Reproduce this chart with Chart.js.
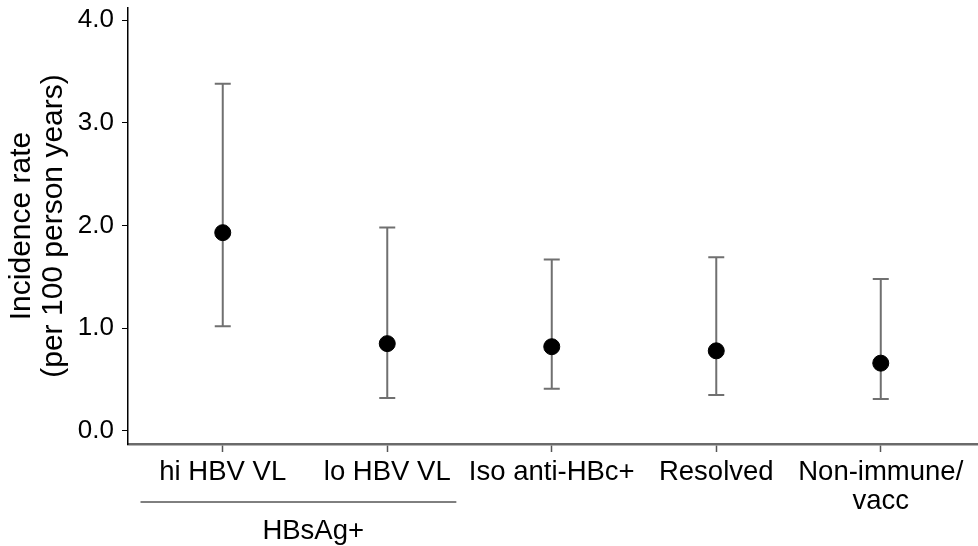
<!DOCTYPE html>
<html>
<head>
<meta charset="utf-8">
<script src="https://cdn.jsdelivr.net/npm/chart.js@4"></script>
<style>
  html, body { margin: 0; padding: 0; background: #fff; overflow: hidden; }
  canvas { display: block; }
</style>
</head>
<body>
<canvas id="chart" width="978" height="546"></canvas>
<script>
const categories = [['hi HBV VL'], ['lo HBV VL'], ['Iso anti-HBc+'], ['Resolved'], ['Non-immune/', 'vacc']];
const rates = [1.93, 0.85, 0.82, 0.78, 0.66];
const lower = [1.02, 0.32, 0.41, 0.35, 0.31];
const upper = [3.38, 1.98, 1.67, 1.69, 1.48];
const yTicks = [0, 1, 2, 3, 4];
const groupLabel = 'HBsAg+';

const FONT = 'Liberation Sans, Arial, Helvetica, sans-serif';

// error bars + group bracket, drawn through the chart scales
const extras = {
    id: 'extras',
    beforeDatasetsDraw(chart) {
        const { ctx, scales: { x, y } } = chart;
        ctx.save();
        ctx.strokeStyle = '#707070';
        ctx.lineWidth = 2;
        rates.forEach((r, i) => {
            const px = x.getPixelForValue(i);
            const top = y.getPixelForValue(upper[i]);
            const bot = y.getPixelForValue(lower[i]);
            ctx.beginPath();
            ctx.moveTo(px, top); ctx.lineTo(px, bot);
            ctx.moveTo(px - 8, top); ctx.lineTo(px + 8, top);
            ctx.moveTo(px - 8, bot); ctx.lineTo(px + 8, bot);
            ctx.stroke();
        });
        ctx.restore();
    },
    afterDraw(chart) {
        const { ctx, scales: { x } } = chart;
        ctx.save();
        const lineY = x.bottom - 44;
        ctx.strokeStyle = '#000';
        ctx.lineWidth = 1;
        ctx.beginPath();
        ctx.moveTo(x.getPixelForValue(-0.5), lineY);
        ctx.lineTo(x.getPixelForValue(1.42), lineY);
        ctx.stroke();
        ctx.fillStyle = '#000';
        ctx.font = '27.5px ' + FONT;
        ctx.textAlign = 'center';
        ctx.textBaseline = 'middle';
        ctx.fillText(groupLabel, x.getPixelForValue(0.55), lineY + 29);
        ctx.restore();
    }
};

new Chart(document.getElementById('chart'), {
    type: 'scatter',
    data: {
        datasets: [{
            data: rates.map((r, i) => ({ x: i, y: r })),
            backgroundColor: '#000',
            borderColor: '#000',
            pointRadius: 8,
            pointHoverRadius: 8
        }]
    },
    options: {
        responsive: false,
        animation: false,
        devicePixelRatio: 1,
        layout: { autoPadding: false, padding: { top: 8, right: 1, left: 0, bottom: 0 } },
        plugins: { legend: { display: false }, tooltip: { enabled: false } },
        scales: {
            x: {
                type: 'linear',
                min: -0.576,
                max: 4.585,
                afterBuildTicks: s => { s.ticks = categories.map((c, i) => ({ value: i })); },
                afterFit: s => { s.height = 102; s.paddingLeft = 0; s.paddingRight = 0; },
                grid: { drawOnChartArea: false, drawTicks: true, tickLength: 8, color: '#555', tickWidth: 1.5 },
                border: { color: '#6a6a6a', width: 2.5 },
                ticks: {
                    callback: (v) => categories[v],
                    color: '#000',
                    padding: 6,
                    maxRotation: 0,
                    autoSkip: false,
                    font: { family: FONT, size: 27.5, lineHeight: 1.06 }
                }
            },
            y: {
                min: -0.127,
                max: 4.117,
                afterBuildTicks: s => { s.ticks = yTicks.map(v => ({ value: v })); },
                afterFit: s => { s.width = 128; s.paddingTop = 0; s.paddingBottom = 0; },
                grid: { drawOnChartArea: false, drawTicks: true, tickLength: 6, color: '#000', tickWidth: 1 },
                border: { color: '#000', width: 1.5 },
                ticks: {
                    callback: v => v.toFixed(1),
                    color: '#000',
                    padding: 8,
                    font: { family: FONT, size: 26 }
                },
                title: {
                    display: true,
                    text: ['Incidence rate', '(per 100 person years)'],
                    color: '#000',
                    padding: { top: 6, bottom: 0 },
                    font: { family: FONT, size: 30, lineHeight: 1.06 }
                }
            }
        }
    },
    plugins: [extras]
});
</script>
</body>
</html>
